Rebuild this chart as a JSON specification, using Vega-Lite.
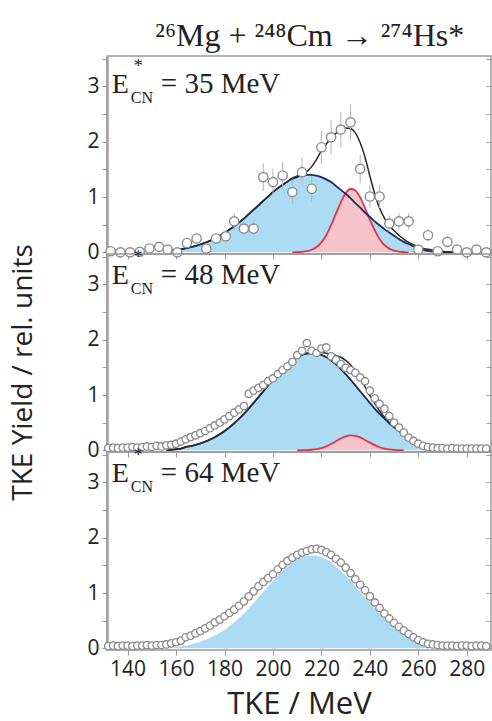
{
  "$schema": "https://vega.github.io/schema/vega-lite/v6.json",
  "padding": {"left": 9, "top": 20, "right": 2, "bottom": 5},
  "title": {"text": "²⁶Mg + ²⁴⁸Cm → ²⁷⁴Hs*", "font": "Liberation Serif", "fontSize": 32, "fontWeight": "normal", "color": "#222", "anchor": "middle", "offset": 2, "dx": 58},
  "spacing": 0,
  "bounds": "flush",
  "config": {
    "view": {"stroke": "#9a9a9a", "strokeWidth": 1.5},
    "axis": {"labelFont": "Open Sans", "labelFontSize": 21, "labelColor": "#222", "titleFont": "Open Sans", "titleFontWeight": "normal", "titleColor": "#222", "tickColor": "#999", "domainColor": "#a0a0a0", "grid": false}
  },
  "datasets": {
    "curves": [
      {"panel":1,"tke":156,"blue":0.02,"fit":0.02},{"panel":1,"tke":158,"blue":0.03,"fit":0.03},{"panel":1,"tke":160,"blue":0.045,"fit":0.045},{"panel":1,"tke":162,"blue":0.058,"fit":0.058},{"panel":1,"tke":164,"blue":0.074,"fit":0.074},{"panel":1,"tke":166,"blue":0.093,"fit":0.093},{"panel":1,"tke":168,"blue":0.116,"fit":0.116},{"panel":1,"tke":170,"blue":0.142,"fit":0.142},{"panel":1,"tke":172,"blue":0.173,"fit":0.173},{"panel":1,"tke":174,"blue":0.21,"fit":0.21},{"panel":1,"tke":176,"blue":0.25,"fit":0.25},{"panel":1,"tke":178,"blue":0.3,"fit":0.3},{"panel":1,"tke":180,"blue":0.35,"fit":0.35},{"panel":1,"tke":182,"blue":0.41,"fit":0.41},{"panel":1,"tke":184,"blue":0.47,"fit":0.47},{"panel":1,"tke":186,"blue":0.54,"fit":0.54},{"panel":1,"tke":188,"blue":0.61,"fit":0.61},{"panel":1,"tke":190,"blue":0.69,"fit":0.69},{"panel":1,"tke":192,"blue":0.77,"fit":0.77},{"panel":1,"tke":194,"blue":0.85,"fit":0.85},{"panel":1,"tke":196,"blue":0.93,"fit":0.93},{"panel":1,"tke":198,"blue":1.01,"fit":1.01},{"panel":1,"tke":200,"blue":1.09,"fit":1.09},{"panel":1,"tke":202,"blue":1.16,"fit":1.16},{"panel":1,"tke":204,"blue":1.22,"fit":1.22},{"panel":1,"tke":206,"blue":1.28,"fit":1.28},{"panel":1,"tke":208,"blue":1.33,"red":0,"fit":1.34},{"panel":1,"tke":210,"blue":1.36,"red":0.003,"fit":1.38},{"panel":1,"tke":212,"blue":1.39,"red":0.008,"fit":1.42},{"panel":1,"tke":214,"blue":1.4,"red":0.02,"fit":1.46},{"panel":1,"tke":216,"blue":1.4,"red":0.046,"fit":1.55},{"panel":1,"tke":218,"blue":1.385,"red":0.095,"fit":1.68},{"panel":1,"tke":220,"blue":1.36,"red":0.18,"fit":1.84},{"panel":1,"tke":222,"blue":1.32,"red":0.31,"fit":1.96},{"panel":1,"tke":224,"blue":1.27,"red":0.49,"fit":2.06},{"panel":1,"tke":226,"blue":1.2,"red":0.7,"fit":2.15},{"panel":1,"tke":228,"blue":1.13,"red":0.905,"fit":2.21},{"panel":1,"tke":230,"blue":1.06,"red":1.07,"fit":2.25},{"panel":1,"tke":232,"blue":0.98,"red":1.15,"fit":2.24},{"panel":1,"tke":234,"blue":0.89,"red":1.12,"fit":2.16},{"panel":1,"tke":236,"blue":0.81,"red":0.995,"fit":1.98},{"panel":1,"tke":238,"blue":0.72,"red":0.8,"fit":1.72},{"panel":1,"tke":240,"blue":0.64,"red":0.59,"fit":1.38},{"panel":1,"tke":242,"blue":0.56,"red":0.4,"fit":1.06},{"panel":1,"tke":244,"blue":0.49,"red":0.24,"fit":0.8},{"panel":1,"tke":246,"blue":0.42,"red":0.133,"fit":0.62},{"panel":1,"tke":248,"blue":0.36,"red":0.067,"fit":0.49},{"panel":1,"tke":250,"blue":0.3,"red":0.031,"fit":0.39},{"panel":1,"tke":252,"blue":0.24,"red":0.013,"fit":0.31},{"panel":1,"tke":254,"blue":0.19,"red":0.005,"fit":0.24},{"panel":1,"tke":256,"blue":0.15,"red":0,"fit":0.18},{"panel":1,"tke":258,"blue":0.11,"fit":0.14},{"panel":1,"tke":260,"blue":0.07,"fit":0.1},{"panel":1,"tke":262,"blue":0.045,"fit":0.07},{"panel":1,"tke":264,"blue":0.025,"fit":0.055},{"panel":1,"tke":266,"blue":0.012,"fit":0.04},{"panel":1,"tke":268,"blue":0.005,"fit":0.03},{"panel":1,"tke":270,"blue":0,"fit":0.02},{"panel":1,"tke":272,"blue":0,"fit":0.01},{"panel":1,"tke":276,"blue":0,"fit":0.0},
      {"panel":2,"tke":156,"blue":0.005,"fit":0.005},{"panel":2,"tke":158,"blue":0.01,"fit":0.01},{"panel":2,"tke":160,"blue":0.02,"fit":0.02},{"panel":2,"tke":162,"blue":0.03,"fit":0.03},{"panel":2,"tke":164,"blue":0.06,"fit":0.06},{"panel":2,"tke":166,"blue":0.077,"fit":0.077},{"panel":2,"tke":168,"blue":0.099,"fit":0.099},{"panel":2,"tke":170,"blue":0.125,"fit":0.125},{"panel":2,"tke":172,"blue":0.157,"fit":0.157},{"panel":2,"tke":174,"blue":0.194,"fit":0.194},{"panel":2,"tke":176,"blue":0.238,"fit":0.238},{"panel":2,"tke":178,"blue":0.289,"fit":0.289},{"panel":2,"tke":180,"blue":0.349,"fit":0.349},{"panel":2,"tke":182,"blue":0.415,"fit":0.415},{"panel":2,"tke":184,"blue":0.49,"fit":0.49},{"panel":2,"tke":186,"blue":0.572,"fit":0.572},{"panel":2,"tke":188,"blue":0.66,"fit":0.66},{"panel":2,"tke":190,"blue":0.756,"fit":0.756},{"panel":2,"tke":192,"blue":0.857,"fit":0.857},{"panel":2,"tke":194,"blue":0.961,"fit":0.961},{"panel":2,"tke":196,"blue":1.067,"fit":1.067},{"panel":2,"tke":198,"blue":1.174,"fit":1.174},{"panel":2,"tke":200,"blue":1.278,"fit":1.278},{"panel":2,"tke":202,"blue":1.377,"fit":1.377},{"panel":2,"tke":204,"blue":1.47,"fit":1.47},{"panel":2,"tke":206,"blue":1.553,"fit":1.553},{"panel":2,"tke":208,"blue":1.625,"fit":1.625},{"panel":2,"tke":210,"blue":1.683,"red":0,"fit":1.683},{"panel":2,"tke":212,"blue":1.725,"red":0.002,"fit":1.727},{"panel":2,"tke":214,"blue":1.751,"red":0.005,"fit":1.756},{"panel":2,"tke":216,"blue":1.76,"red":0.011,"fit":1.771},{"panel":2,"tke":218,"blue":1.751,"red":0.022,"fit":1.773},{"panel":2,"tke":220,"blue":1.725,"red":0.042,"fit":1.767},{"panel":2,"tke":222,"blue":1.683,"red":0.073,"fit":1.756},{"panel":2,"tke":224,"blue":1.625,"red":0.115,"fit":1.74},{"panel":2,"tke":226,"blue":1.553,"red":0.164,"fit":1.717},{"panel":2,"tke":228,"blue":1.47,"red":0.213,"fit":1.683},{"panel":2,"tke":230,"blue":1.377,"red":0.251,"fit":1.628},{"panel":2,"tke":232,"blue":1.278,"red":0.27,"fit":1.548},{"panel":2,"tke":234,"blue":1.174,"red":0.263,"fit":1.437},{"panel":2,"tke":236,"blue":1.067,"red":0.234,"fit":1.301},{"panel":2,"tke":238,"blue":0.961,"red":0.188,"fit":1.149},{"panel":2,"tke":240,"blue":0.857,"red":0.139,"fit":0.996},{"panel":2,"tke":242,"blue":0.756,"red":0.094,"fit":0.85},{"panel":2,"tke":244,"blue":0.66,"red":0.056,"fit":0.716},{"panel":2,"tke":246,"blue":0.572,"red":0.031,"fit":0.603},{"panel":2,"tke":248,"blue":0.49,"red":0.016,"fit":0.506},{"panel":2,"tke":250,"blue":0.415,"red":0.007,"fit":0.422},{"panel":2,"tke":252,"blue":0.349,"red":0.003,"fit":0.352},{"panel":2,"tke":254,"blue":0.289,"red":0,"fit":0.289},{"panel":2,"tke":256,"blue":0.22,"fit":0.22},{"panel":2,"tke":258,"blue":0.15,"fit":0.15},{"panel":2,"tke":260,"blue":0.09,"fit":0.09},{"panel":2,"tke":262,"blue":0.04,"fit":0.04},{"panel":2,"tke":264,"blue":0.01,"fit":0.01},{"panel":2,"tke":266,"blue":0,"fit":0},
      {"panel":3,"tke":156,"blue":0.005},{"panel":3,"tke":158,"blue":0.01},{"panel":3,"tke":160,"blue":0.02},{"panel":3,"tke":162,"blue":0.03},{"panel":3,"tke":164,"blue":0.05},{"panel":3,"tke":166,"blue":0.07},{"panel":3,"tke":168,"blue":0.095},{"panel":3,"tke":170,"blue":0.12},{"panel":3,"tke":172,"blue":0.15},{"panel":3,"tke":174,"blue":0.185},{"panel":3,"tke":176,"blue":0.23},{"panel":3,"tke":178,"blue":0.28},{"panel":3,"tke":180,"blue":0.33},{"panel":3,"tke":182,"blue":0.4},{"panel":3,"tke":184,"blue":0.47},{"panel":3,"tke":186,"blue":0.55},{"panel":3,"tke":188,"blue":0.63},{"panel":3,"tke":190,"blue":0.72},{"panel":3,"tke":192,"blue":0.82},{"panel":3,"tke":194,"blue":0.92},{"panel":3,"tke":196,"blue":1.02},{"panel":3,"tke":198,"blue":1.12},{"panel":3,"tke":200,"blue":1.22},{"panel":3,"tke":202,"blue":1.32},{"panel":3,"tke":204,"blue":1.4},{"panel":3,"tke":206,"blue":1.48},{"panel":3,"tke":208,"blue":1.55},{"panel":3,"tke":210,"blue":1.61},{"panel":3,"tke":212,"blue":1.65},{"panel":3,"tke":214,"blue":1.67},{"panel":3,"tke":216,"blue":1.68},{"panel":3,"tke":218,"blue":1.67},{"panel":3,"tke":220,"blue":1.65},{"panel":3,"tke":222,"blue":1.61},{"panel":3,"tke":224,"blue":1.55},{"panel":3,"tke":226,"blue":1.48},{"panel":3,"tke":228,"blue":1.4},{"panel":3,"tke":230,"blue":1.32},{"panel":3,"tke":232,"blue":1.22},{"panel":3,"tke":234,"blue":1.12},{"panel":3,"tke":236,"blue":1.02},{"panel":3,"tke":238,"blue":0.92},{"panel":3,"tke":240,"blue":0.82},{"panel":3,"tke":242,"blue":0.72},{"panel":3,"tke":244,"blue":0.63},{"panel":3,"tke":246,"blue":0.55},{"panel":3,"tke":248,"blue":0.47},{"panel":3,"tke":250,"blue":0.4},{"panel":3,"tke":252,"blue":0.33},{"panel":3,"tke":254,"blue":0.28},{"panel":3,"tke":256,"blue":0.22},{"panel":3,"tke":258,"blue":0.155},{"panel":3,"tke":260,"blue":0.09},{"panel":3,"tke":262,"blue":0.04},{"panel":3,"tke":264,"blue":0.01},{"panel":3,"tke":266,"blue":0}
    ],
    "points": [
      {"panel":1,"tke":133,"y":0.02,"err":0.03},{"panel":1,"tke":137,"y":0,"err":0.02},{"panel":1,"tke":141,"y":0,"err":0.02},{"panel":1,"tke":145,"y":0.01,"err":0.02},{"panel":1,"tke":149,"y":0.07,"err":0.06},{"panel":1,"tke":153,"y":0.1,"err":0.07},{"panel":1,"tke":156.5,"y":0.05,"err":0.05},{"panel":1,"tke":160.5,"y":0,"err":0.02},{"panel":1,"tke":164.5,"y":0.17,"err":0.09},{"panel":1,"tke":168.5,"y":0.25,"err":0.1},{"panel":1,"tke":172.5,"y":0.07,"err":0.06},{"panel":1,"tke":176.5,"y":0.25,"err":0.1},{"panel":1,"tke":180.5,"y":0.29,"err":0.11},{"panel":1,"tke":184,"y":0.56,"err":0.15},{"panel":1,"tke":188,"y":0.43,"err":0.13},{"panel":1,"tke":192,"y":0.43,"err":0.13},{"panel":1,"tke":196,"y":1.36,"err":0.25},{"panel":1,"tke":200,"y":1.27,"err":0.24},{"panel":1,"tke":204,"y":1.39,"err":0.25},{"panel":1,"tke":208,"y":1.09,"err":0.22},{"panel":1,"tke":212,"y":1.45,"err":0.26},{"panel":1,"tke":216,"y":1.15,"err":0.23},{"panel":1,"tke":220,"y":1.9,"err":0.3},{"panel":1,"tke":224,"y":2.08,"err":0.31},{"panel":1,"tke":228,"y":2.22,"err":0.32},{"panel":1,"tke":232,"y":2.35,"err":0.33},{"panel":1,"tke":236,"y":1.51,"err":0.26},{"panel":1,"tke":240,"y":1.01,"err":0.21},{"panel":1,"tke":244,"y":1.01,"err":0.21},{"panel":1,"tke":248,"y":0.52,"err":0.15},{"panel":1,"tke":252,"y":0.56,"err":0.15},{"panel":1,"tke":256,"y":0.56,"err":0.15},{"panel":1,"tke":260,"y":0.05,"err":0.05},{"panel":1,"tke":264,"y":0.31,"err":0.11},{"panel":1,"tke":268,"y":0.02,"err":0.03},{"panel":1,"tke":272,"y":0.19,"err":0.09},{"panel":1,"tke":276,"y":0.05,"err":0.05},{"panel":1,"tke":280,"y":0,"err":0.02},{"panel":1,"tke":284,"y":0.05,"err":0.05},{"panel":1,"tke":288,"y":0,"err":0.02},
      {"panel":2,"tke":132,"y":0.04},{"panel":2,"tke":134,"y":0.05},{"panel":2,"tke":136,"y":0.04},{"panel":2,"tke":138,"y":0.05},{"panel":2,"tke":140,"y":0.05},{"panel":2,"tke":142,"y":0.06},{"panel":2,"tke":144,"y":0.05},{"panel":2,"tke":146,"y":0.06},{"panel":2,"tke":148,"y":0.07},{"panel":2,"tke":150,"y":0.06},{"panel":2,"tke":152,"y":0.08},{"panel":2,"tke":154,"y":0.07},{"panel":2,"tke":156,"y":0.09},{"panel":2,"tke":158,"y":0.1},{"panel":2,"tke":160,"y":0.12},{"panel":2,"tke":162,"y":0.16},{"panel":2,"tke":164,"y":0.2},{"panel":2,"tke":166,"y":0.24},{"panel":2,"tke":168,"y":0.27},{"panel":2,"tke":170,"y":0.31},{"panel":2,"tke":172,"y":0.35},{"panel":2,"tke":174,"y":0.4},{"panel":2,"tke":176,"y":0.45},{"panel":2,"tke":178,"y":0.5},{"panel":2,"tke":180,"y":0.56},{"panel":2,"tke":182,"y":0.62},{"panel":2,"tke":184,"y":0.68},{"panel":2,"tke":186,"y":0.74},{"panel":2,"tke":188,"y":0.8},{"panel":2,"tke":190,"y":1.02},{"panel":2,"tke":192,"y":1.08},{"panel":2,"tke":194,"y":1.13},{"panel":2,"tke":196,"y":1.18},{"panel":2,"tke":198,"y":1.25},{"panel":2,"tke":200,"y":1.3},{"panel":2,"tke":202,"y":1.38},{"panel":2,"tke":204,"y":1.45},{"panel":2,"tke":206,"y":1.52},{"panel":2,"tke":208,"y":1.6},{"panel":2,"tke":210,"y":1.72},{"panel":2,"tke":212,"y":1.8},{"panel":2,"tke":214,"y":1.94},{"panel":2,"tke":216,"y":1.8},{"panel":2,"tke":218,"y":1.76},{"panel":2,"tke":220,"y":1.84},{"panel":2,"tke":222,"y":1.86},{"panel":2,"tke":224,"y":1.7},{"panel":2,"tke":226,"y":1.64},{"panel":2,"tke":228,"y":1.56},{"panel":2,"tke":230,"y":1.49},{"panel":2,"tke":232,"y":1.45},{"panel":2,"tke":234,"y":1.4},{"panel":2,"tke":236,"y":1.32},{"panel":2,"tke":238,"y":1.25},{"panel":2,"tke":240,"y":1.08},{"panel":2,"tke":242,"y":0.94},{"panel":2,"tke":244,"y":0.84},{"panel":2,"tke":246,"y":0.75},{"panel":2,"tke":248,"y":0.62},{"panel":2,"tke":250,"y":0.5},{"panel":2,"tke":252,"y":0.41},{"panel":2,"tke":254,"y":0.32},{"panel":2,"tke":256,"y":0.23},{"panel":2,"tke":258,"y":0.17},{"panel":2,"tke":260,"y":0.12},{"panel":2,"tke":262,"y":0.08},{"panel":2,"tke":264,"y":0.06},{"panel":2,"tke":266,"y":0.05},{"panel":2,"tke":268,"y":0.04},{"panel":2,"tke":270,"y":0.04},{"panel":2,"tke":272,"y":0.03},{"panel":2,"tke":274,"y":0.04},{"panel":2,"tke":276,"y":0.03},{"panel":2,"tke":278,"y":0.03},{"panel":2,"tke":280,"y":0.03},{"panel":2,"tke":282,"y":0.03},{"panel":2,"tke":284,"y":0.03},{"panel":2,"tke":286,"y":0.03},{"panel":2,"tke":288,"y":0.03},
      {"panel":3,"tke":132,"y":0.04},{"panel":3,"tke":134,"y":0.05},{"panel":3,"tke":136,"y":0.04},{"panel":3,"tke":138,"y":0.05},{"panel":3,"tke":140,"y":0.05},{"panel":3,"tke":142,"y":0.04},{"panel":3,"tke":144,"y":0.05},{"panel":3,"tke":146,"y":0.05},{"panel":3,"tke":148,"y":0.06},{"panel":3,"tke":150,"y":0.05},{"panel":3,"tke":152,"y":0.06},{"panel":3,"tke":154,"y":0.06},{"panel":3,"tke":156,"y":0.07},{"panel":3,"tke":158,"y":0.09},{"panel":3,"tke":160,"y":0.11},{"panel":3,"tke":162,"y":0.14},{"panel":3,"tke":164,"y":0.2},{"panel":3,"tke":166,"y":0.23},{"panel":3,"tke":168,"y":0.27},{"panel":3,"tke":170,"y":0.31},{"panel":3,"tke":172,"y":0.36},{"panel":3,"tke":174,"y":0.41},{"panel":3,"tke":176,"y":0.47},{"panel":3,"tke":178,"y":0.52},{"panel":3,"tke":180,"y":0.58},{"panel":3,"tke":182,"y":0.64},{"panel":3,"tke":184,"y":0.7},{"panel":3,"tke":186,"y":0.77},{"panel":3,"tke":188,"y":0.85},{"panel":3,"tke":190,"y":0.94},{"panel":3,"tke":192,"y":1.03},{"panel":3,"tke":194,"y":1.12},{"panel":3,"tke":196,"y":1.2},{"panel":3,"tke":198,"y":1.27},{"panel":3,"tke":200,"y":1.34},{"panel":3,"tke":202,"y":1.43},{"panel":3,"tke":204,"y":1.51},{"panel":3,"tke":206,"y":1.58},{"panel":3,"tke":208,"y":1.64},{"panel":3,"tke":210,"y":1.69},{"panel":3,"tke":212,"y":1.73},{"panel":3,"tke":214,"y":1.76},{"panel":3,"tke":216,"y":1.79},{"panel":3,"tke":218,"y":1.8},{"panel":3,"tke":220,"y":1.78},{"panel":3,"tke":222,"y":1.74},{"panel":3,"tke":224,"y":1.69},{"panel":3,"tke":226,"y":1.62},{"panel":3,"tke":228,"y":1.55},{"panel":3,"tke":230,"y":1.46},{"panel":3,"tke":232,"y":1.36},{"panel":3,"tke":234,"y":1.25},{"panel":3,"tke":236,"y":1.15},{"panel":3,"tke":238,"y":1.05},{"panel":3,"tke":240,"y":0.94},{"panel":3,"tke":242,"y":0.83},{"panel":3,"tke":244,"y":0.73},{"panel":3,"tke":246,"y":0.63},{"panel":3,"tke":248,"y":0.54},{"panel":3,"tke":250,"y":0.46},{"panel":3,"tke":252,"y":0.39},{"panel":3,"tke":254,"y":0.32},{"panel":3,"tke":256,"y":0.26},{"panel":3,"tke":258,"y":0.2},{"panel":3,"tke":260,"y":0.15},{"panel":3,"tke":262,"y":0.11},{"panel":3,"tke":264,"y":0.08},{"panel":3,"tke":266,"y":0.07},{"panel":3,"tke":268,"y":0.06},{"panel":3,"tke":270,"y":0.05},{"panel":3,"tke":272,"y":0.05},{"panel":3,"tke":274,"y":0.05},{"panel":3,"tke":276,"y":0.04},{"panel":3,"tke":278,"y":0.05},{"panel":3,"tke":280,"y":0.05},{"panel":3,"tke":282,"y":0.04},{"panel":3,"tke":284,"y":0.05},{"panel":3,"tke":286,"y":0.05},{"panel":3,"tke":288,"y":0.04}
    ]
  },
  "vconcat": [
    {
      "width": 384, "height": 198,
      "resolve": {"axis": {"y": "independent"}},
      "layer": [
        {"data": {"name": "curves"}, "transform": [{"filter": "datum.panel == 1"}],
         "mark": {"type": "area", "color": "#abdcf3", "interpolate": "monotone"},
         "encoding": {
           "x": {"field": "tke", "type": "quantitative", "scale": {"domain": [131.5, 290], "nice": false}, "axis": {"values": [140,150,160,170,180,190,200,210,220,230,240,250,260,270,280], "labels": false, "title": null, "tickSize": 5, "domain": false}},
           "y": {"field": "blue", "type": "quantitative", "scale": {"domain": [-0.03, 3.55], "nice": false}, "axis": {"values": [0,0.5,1,1.5,2,2.5,3,3.5], "labelExpr": "datum.value % 1 == 0 ? datum.value + '' : ''", "title": null, "tickSize": 5, "labelPadding": 3, "domainWidth": 2.5}}}},
        {"data": {"name": "curves"}, "transform": [{"filter": "datum.panel == 1"}],
         "mark": {"type": "area", "color": "#f6c4c8", "interpolate": "monotone"},
         "encoding": {"x": {"field": "tke", "type": "quantitative"}, "y": {"field": "red", "type": "quantitative", "axis": null}}},
        {"data": {"name": "curves"}, "transform": [{"filter": "datum.panel == 1"}],
         "mark": {"type": "line", "color": "#e2344b", "strokeWidth": 1.8, "interpolate": "monotone"},
         "encoding": {"x": {"field": "tke", "type": "quantitative"}, "y": {"field": "red", "type": "quantitative", "axis": null}}},
        {"data": {"name": "curves"}, "transform": [{"filter": "datum.panel == 1"}],
         "mark": {"type": "line", "color": "#1b2a66", "strokeWidth": 1.8, "interpolate": "monotone"},
         "encoding": {"x": {"field": "tke", "type": "quantitative"}, "y": {"field": "blue", "type": "quantitative", "axis": null}}},
        {"data": {"name": "curves"}, "transform": [{"filter": "datum.panel == 1"}],
         "mark": {"type": "line", "color": "#2a2a2a", "strokeWidth": 1.5, "interpolate": "monotone"},
         "encoding": {"x": {"field": "tke", "type": "quantitative"}, "y": {"field": "fit", "type": "quantitative", "axis": null}}},
        {"data": {"name": "points"}, "transform": [{"filter": "datum.panel == 1"}],
         "mark": {"type": "errorbar", "color": "#b5b5b5", "thickness": 1},
         "encoding": {"x": {"field": "tke", "type": "quantitative"}, "y": {"field": "y", "type": "quantitative", "axis": null}, "yError": {"field": "err"}}},
        {"data": {"name": "points"}, "transform": [{"filter": "datum.panel == 1"}],
         "mark": {"type": "point", "shape": "circle", "filled": true, "fill": "white", "stroke": "#8c8c8c", "strokeWidth": 1.4, "size": 85, "opacity": 1},
         "encoding": {"x": {"field": "tke", "type": "quantitative"}, "y": {"field": "y", "type": "quantitative", "axis": {"orient": "right", "values": [0,0.5,1,1.5,2,2.5,3,3.5], "labels": false, "title": null, "tickSize": -5, "domain": false}}}},
        {"data": {"values": [{}]}, "mark": {"type": "text", "text": "E", "font": "Liberation Serif", "fontSize": 28, "align": "left", "baseline": "alphabetic", "color": "#222"},
         "encoding": {"x": {"datum": 133.5, "type": "quantitative"}, "y": {"datum": 2.88, "type": "quantitative", "axis": null}}},
        {"data": {"values": [{}]}, "mark": {"type": "text", "text": "*", "font": "Liberation Serif", "fontSize": 18, "align": "left", "baseline": "alphabetic", "dx": 22, "dy": -21, "color": "#222"},
         "encoding": {"x": {"datum": 133.5, "type": "quantitative"}, "y": {"datum": 2.88, "type": "quantitative", "axis": null}}},
        {"data": {"values": [{}]}, "mark": {"type": "text", "text": "CN", "font": "Liberation Serif", "fontSize": 16, "align": "left", "baseline": "alphabetic", "dx": 19, "dy": 10, "color": "#222"},
         "encoding": {"x": {"datum": 133.5, "type": "quantitative"}, "y": {"datum": 2.88, "type": "quantitative", "axis": null}}},
        {"data": {"values": [{}]}, "mark": {"type": "text", "text": "= 35 MeV", "font": "Liberation Serif", "fontSize": 29, "align": "left", "baseline": "alphabetic", "dx": 49, "color": "#222"},
         "encoding": {"x": {"datum": 133.5, "type": "quantitative"}, "y": {"datum": 2.88, "type": "quantitative", "axis": null}}}
      ]
    },
    {
      "width": 384, "height": 198,
      "resolve": {"axis": {"y": "independent"}},
      "layer": [
        {"data": {"name": "curves"}, "transform": [{"filter": "datum.panel == 2"}],
         "mark": {"type": "area", "color": "#abdcf3", "interpolate": "monotone"},
         "encoding": {
           "x": {"field": "tke", "type": "quantitative", "scale": {"domain": [131.5, 290], "nice": false}, "axis": {"values": [140,150,160,170,180,190,200,210,220,230,240,250,260,270,280], "labels": false, "title": null, "tickSize": 5, "domain": false}},
           "y": {"field": "blue", "type": "quantitative", "scale": {"domain": [-0.03, 3.55], "nice": false}, "axis": {"values": [0,0.5,1,1.5,2,2.5,3,3.5], "labelExpr": "datum.value % 1 == 0 ? datum.value + '' : ''", "title": "TKE Yield / rel. units", "titleFontSize": 28, "titlePadding": 49, "titleY": 118, "tickSize": 5, "labelPadding": 3, "domainWidth": 2.5}}}},
        {"data": {"name": "curves"}, "transform": [{"filter": "datum.panel == 2"}],
         "mark": {"type": "area", "color": "#f6c4c8", "interpolate": "monotone"},
         "encoding": {"x": {"field": "tke", "type": "quantitative"}, "y": {"field": "red", "type": "quantitative", "axis": null}}},
        {"data": {"name": "curves"}, "transform": [{"filter": "datum.panel == 2"}],
         "mark": {"type": "line", "color": "#e2344b", "strokeWidth": 1.8, "interpolate": "monotone"},
         "encoding": {"x": {"field": "tke", "type": "quantitative"}, "y": {"field": "red", "type": "quantitative", "axis": null}}},
        {"data": {"name": "curves"}, "transform": [{"filter": "datum.panel == 2"}],
         "mark": {"type": "line", "color": "#1b2a66", "strokeWidth": 1.8, "interpolate": "monotone"},
         "encoding": {"x": {"field": "tke", "type": "quantitative"}, "y": {"field": "blue", "type": "quantitative", "axis": null}}},
        {"data": {"name": "curves"}, "transform": [{"filter": "datum.panel == 2"}],
         "mark": {"type": "line", "color": "#2a2a2a", "strokeWidth": 1.5, "interpolate": "monotone"},
         "encoding": {"x": {"field": "tke", "type": "quantitative"}, "y": {"field": "fit", "type": "quantitative", "axis": null}}},
        {"data": {"name": "points"}, "transform": [{"filter": "datum.panel == 2"}],
         "mark": {"type": "point", "shape": "circle", "filled": true, "fill": "white", "stroke": "#8c8c8c", "strokeWidth": 1.3, "size": 55, "opacity": 1},
         "encoding": {"x": {"field": "tke", "type": "quantitative"}, "y": {"field": "y", "type": "quantitative", "axis": {"orient": "right", "values": [0,0.5,1,1.5,2,2.5,3,3.5], "labels": false, "title": null, "tickSize": -5, "domain": false}}}},
        {"data": {"values": [{}]}, "mark": {"type": "text", "text": "E", "font": "Liberation Serif", "fontSize": 28, "align": "left", "baseline": "alphabetic", "color": "#222"},
         "encoding": {"x": {"datum": 133.5, "type": "quantitative"}, "y": {"datum": 3.0, "type": "quantitative", "axis": null}}},
        {"data": {"values": [{}]}, "mark": {"type": "text", "text": "*", "font": "Liberation Serif", "fontSize": 18, "align": "left", "baseline": "alphabetic", "dx": 22, "dy": -21, "color": "#222"},
         "encoding": {"x": {"datum": 133.5, "type": "quantitative"}, "y": {"datum": 3.0, "type": "quantitative", "axis": null}}},
        {"data": {"values": [{}]}, "mark": {"type": "text", "text": "CN", "font": "Liberation Serif", "fontSize": 16, "align": "left", "baseline": "alphabetic", "dx": 19, "dy": 10, "color": "#222"},
         "encoding": {"x": {"datum": 133.5, "type": "quantitative"}, "y": {"datum": 3.0, "type": "quantitative", "axis": null}}},
        {"data": {"values": [{}]}, "mark": {"type": "text", "text": "= 48 MeV", "font": "Liberation Serif", "fontSize": 29, "align": "left", "baseline": "alphabetic", "dx": 49, "color": "#222"},
         "encoding": {"x": {"datum": 133.5, "type": "quantitative"}, "y": {"datum": 3.0, "type": "quantitative", "axis": null}}}
      ]
    },
    {
      "width": 384, "height": 198,
      "resolve": {"axis": {"y": "independent"}},
      "layer": [
        {"data": {"name": "curves"}, "transform": [{"filter": "datum.panel == 3"}],
         "mark": {"type": "area", "color": "#abdcf3", "interpolate": "monotone"},
         "encoding": {
           "x": {"field": "tke", "type": "quantitative", "scale": {"domain": [131.5, 290], "nice": false}, "axis": {"values": [140,150,160,170,180,190,200,210,220,230,240,250,260,270,280], "labelExpr": "datum.value % 20 == 0 ? datum.value + '' : ''", "labelFontSize": 21, "labelPadding": 3, "title": "TKE / MeV", "titleFontSize": 31, "titlePadding": 10, "tickSize": 5, "domain": false, "labelFlush": false, "labelOverlap": false}},
           "y": {"field": "blue", "type": "quantitative", "scale": {"domain": [-0.03, 3.55], "nice": false}, "axis": {"values": [0,0.5,1,1.5,2,2.5,3,3.5], "labelExpr": "datum.value % 1 == 0 ? datum.value + '' : ''", "title": null, "tickSize": 5, "labelPadding": 3, "domainWidth": 2.5}}}},
        {"data": {"name": "points"}, "transform": [{"filter": "datum.panel == 3"}],
         "mark": {"type": "point", "shape": "circle", "filled": true, "fill": "white", "stroke": "#8c8c8c", "strokeWidth": 1.3, "size": 55, "opacity": 1},
         "encoding": {"x": {"field": "tke", "type": "quantitative"}, "y": {"field": "y", "type": "quantitative", "axis": {"orient": "right", "values": [0,0.5,1,1.5,2,2.5,3,3.5], "labels": false, "title": null, "tickSize": -5, "domain": false}}}},
        {"data": {"values": [{}]}, "mark": {"type": "text", "text": "E", "font": "Liberation Serif", "fontSize": 28, "align": "left", "baseline": "alphabetic", "color": "#222"},
         "encoding": {"x": {"datum": 133.5, "type": "quantitative"}, "y": {"datum": 3.0, "type": "quantitative", "axis": null}}},
        {"data": {"values": [{}]}, "mark": {"type": "text", "text": "*", "font": "Liberation Serif", "fontSize": 18, "align": "left", "baseline": "alphabetic", "dx": 22, "dy": -21, "color": "#222"},
         "encoding": {"x": {"datum": 133.5, "type": "quantitative"}, "y": {"datum": 3.0, "type": "quantitative", "axis": null}}},
        {"data": {"values": [{}]}, "mark": {"type": "text", "text": "CN", "font": "Liberation Serif", "fontSize": 16, "align": "left", "baseline": "alphabetic", "dx": 19, "dy": 10, "color": "#222"},
         "encoding": {"x": {"datum": 133.5, "type": "quantitative"}, "y": {"datum": 3.0, "type": "quantitative", "axis": null}}},
        {"data": {"values": [{}]}, "mark": {"type": "text", "text": "= 64 MeV", "font": "Liberation Serif", "fontSize": 29, "align": "left", "baseline": "alphabetic", "dx": 49, "color": "#222"},
         "encoding": {"x": {"datum": 133.5, "type": "quantitative"}, "y": {"datum": 3.0, "type": "quantitative", "axis": null}}}
      ]
    }
  ]
}
